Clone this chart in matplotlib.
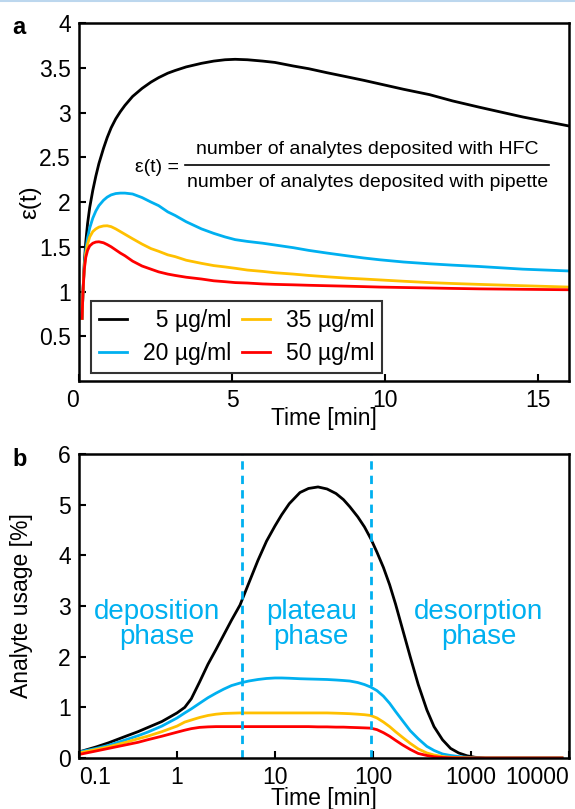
import matplotlib
matplotlib.use('Agg')
import matplotlib.pyplot as plt
from matplotlib.lines import Line2D

plt.rcParams['font.family'] = ['Liberation Sans', 'DejaVu Sans']
plt.rcParams['font.size'] = 16.5

# panel a: enhancement factor vs time
t_a = [0.1, 0.13, 0.17, 0.22, 0.28, 0.35, 0.45, 0.55, 0.65, 0.8, 0.92, 1.05, 1.2, 1.35,
       1.5, 1.75, 2.06, 2.35, 2.6, 2.9, 3.14, 3.5, 4.0, 4.4, 4.77, 5.1, 5.5, 6.0, 6.4,
       7.0, 7.5, 8.1, 8.74, 9.3, 9.82, 10.6, 11.45, 12.2, 13.07, 14.5, 16]
eps_5 = [0.70, 1.00, 1.30, 1.55, 1.76, 1.94, 2.13, 2.29, 2.43, 2.60, 2.72, 2.83, 2.93, 3.01,
         3.08, 3.18, 3.27, 3.34, 3.39, 3.44, 3.47, 3.51, 3.55, 3.575, 3.59, 3.595, 3.59,
         3.575, 3.56, 3.52, 3.49, 3.445, 3.40, 3.36, 3.32, 3.26, 3.20, 3.13, 3.06, 2.95, 2.85]
eps_20 = [0.70, 1.00, 1.27, 1.46, 1.60, 1.71, 1.82, 1.90, 1.96, 2.02, 2.055, 2.08, 2.095,
          2.10, 2.10, 2.09, 2.05, 2.00, 1.96, 1.89, 1.85, 1.78, 1.70, 1.65, 1.61, 1.58,
          1.56, 1.54, 1.52, 1.49, 1.46, 1.43, 1.40, 1.375, 1.355, 1.33, 1.31, 1.295, 1.28,
          1.25, 1.23]
eps_35 = [0.70, 1.00, 1.25, 1.42, 1.53, 1.61, 1.67, 1.70, 1.72, 1.733, 1.735, 1.725, 1.70,
          1.67, 1.64, 1.59, 1.53, 1.48, 1.45, 1.41, 1.39, 1.35, 1.315, 1.29, 1.275, 1.26,
          1.24, 1.225, 1.21, 1.195, 1.18, 1.165, 1.15, 1.14, 1.13, 1.115, 1.10, 1.09, 1.08,
          1.065, 1.05]
eps_50 = [0.70, 1.00, 1.24, 1.38, 1.46, 1.51, 1.54, 1.553, 1.556, 1.545, 1.525, 1.50, 1.465,
          1.43, 1.40, 1.34, 1.285, 1.25, 1.22, 1.195, 1.18, 1.16, 1.14, 1.12, 1.11, 1.10,
          1.095, 1.085, 1.08, 1.075, 1.07, 1.065, 1.06, 1.055, 1.05, 1.045, 1.04, 1.035,
          1.03, 1.025, 1.02]

# panel b: analyte usage vs time (log)
t_b = [0.1, 0.15, 0.2, 0.3, 0.4, 0.5, 0.7, 1.0, 1.2, 1.4, 1.7, 2.07, 2.5, 3.0, 3.6, 4.4,
       5.4, 6.7, 8.2, 10, 11.7, 14, 18, 22, 27.5, 34, 42, 50, 58, 70, 82, 95, 110, 128,
       148, 170, 200, 240, 290, 355, 420, 513, 620, 750, 910, 1100, 1400, 2000, 5000, 8500]
use_5 = [0.12, 0.22, 0.30, 0.43, 0.52, 0.60, 0.72, 0.89, 1.00, 1.17, 1.50, 1.85, 2.14, 2.43,
         2.72, 3.02, 3.45, 3.90, 4.28, 4.58, 4.80, 5.02, 5.24, 5.32, 5.35, 5.31, 5.22, 5.10,
         4.96, 4.76, 4.56, 4.33, 4.06, 3.76, 3.42, 3.04, 2.55, 2.00, 1.45, 0.95, 0.62, 0.36,
         0.19, 0.10, 0.045, 0.015, 0.0, 0.0, 0.0, 0.0]
use_20 = [0.12, 0.19, 0.25, 0.36, 0.44, 0.51, 0.63, 0.79, 0.89, 0.97, 1.08, 1.19, 1.28, 1.36,
          1.43, 1.48, 1.52, 1.55, 1.57, 1.58, 1.58, 1.575, 1.565, 1.56, 1.555, 1.55, 1.54,
          1.53, 1.52, 1.49, 1.45, 1.40, 1.33, 1.22, 1.08, 0.92, 0.74, 0.54, 0.38, 0.23, 0.15,
          0.08, 0.05, 0.03, 0.015, 0.005, 0.0, 0.0, 0.0, 0.0]
use_35 = [0.10, 0.17, 0.22, 0.31, 0.38, 0.43, 0.52, 0.63, 0.71, 0.75, 0.80, 0.84, 0.865, 0.88,
          0.885, 0.89, 0.89, 0.89, 0.89, 0.89, 0.89, 0.89, 0.89, 0.89, 0.89, 0.89, 0.885, 0.88,
          0.875, 0.865, 0.855, 0.84, 0.79, 0.71, 0.62, 0.52, 0.41, 0.29, 0.18, 0.10, 0.06,
          0.03, 0.015, 0.008, 0.004, 0.0, 0.0, 0.0, 0.0, 0.0]
use_50 = [0.07, 0.14, 0.19, 0.26, 0.31, 0.36, 0.43, 0.51, 0.55, 0.58, 0.605, 0.615, 0.62, 0.62,
          0.62, 0.62, 0.62, 0.62, 0.62, 0.62, 0.62, 0.62, 0.62, 0.62, 0.615, 0.615, 0.61, 0.61,
          0.605, 0.60, 0.595, 0.59, 0.56, 0.50, 0.43, 0.35, 0.26, 0.17, 0.09, 0.05, 0.025,
          0.012, 0.005, 0.002, 0.0, 0.0, 0.0, 0.0, 0.0, 0.0]

labels = ['\u20075 \u00b5g/ml', '20 \u00b5g/ml', '35 \u00b5g/ml', '50 \u00b5g/ml']
colors = ['black', '#00b0f0', '#ffc000', '#ff0000']
phase_t = [4.6, 95]
blue = '#00b0f0'

fig = plt.figure(figsize=(5.75, 8.09), dpi=100)
ax1 = fig.add_axes([0.1374, 0.529, 0.852, 0.4425])
ax2 = fig.add_axes([0.1374, 0.063, 0.852, 0.3758])

for ax in (ax1, ax2):
    for s in ax.spines.values():
        s.set_linewidth(1.8)
    ax.tick_params(direction='in', length=5, width=1.5, pad=6, labelsize=16.5)

# ---- a ----
lines = []
for y, c in zip([eps_5, eps_20, eps_35, eps_50], colors):
    lines.append(ax1.plot(t_a, y, color=c, lw=2)[0])
ax1.set_xlim(0, 16)
ax1.set_ylim(0, 4)
ax1.set_xticks([0, 5, 10, 15])
ax1.set_yticks([0.5, 1, 1.5, 2, 2.5, 3, 3.5, 4])
ax1.set_yticklabels(['0.5', '1', '1.5', '2', '2.5', '3', '3.5', '4'])
ax1.get_xticklabels()[0].set_ha('right')
ax1.set_xlabel('Time [min]')
ax1.xaxis.set_label_coords(0.5, -0.072)
ax1.set_ylabel('\u03b5(t)', fontsize=17.5)
ax1.yaxis.set_label_coords(-0.078, 0.5)
leg = ax1.legend(lines, labels,
                 ncol=2, loc='lower left', bbox_to_anchor=(0.0245, 0.022),
                 borderaxespad=0, fancybox=False, edgecolor='black',
                 handlelength=1.2, columnspacing=0.5, handletextpad=0.7,
                 fontsize=16.5, borderpad=0.35, labelspacing=0.45)
leg.get_frame().set_linewidth(1.5)

ax1.text(0.16, 0.597, '\u03b5(t) =', transform=ax1.transAxes, fontsize=14,
         ha='center', va='center')
ax1.text(0.588, 0.646, 'number of analytes deposited with HFC', transform=ax1.transAxes,
         fontsize=14, ha='center', va='center')
ax1.text(0.588, 0.556, 'number of analytes deposited with pipette', transform=ax1.transAxes,
         fontsize=14, ha='center', va='center')
ax1.add_line(Line2D([0.216, 0.959], [0.603, 0.603], transform=ax1.transAxes,
                    color='black', lw=1.2))

# ---- b ----
for y, c in zip([use_5, use_20, use_35, use_50], colors):
    ax2.plot(t_b, y, color=c, lw=2)
for tp in phase_t:
    ax2.axvline(tp, color=blue, lw=2, ls=(0, (3, 2.2)))
ax2.set_xscale('log')
ax2.set_xlim(0.1, 10000)
ax2.set_ylim(0, 6)
ax2.set_xticks([0.1, 1, 10, 100, 1000, 10000])
ax2.set_xticklabels(['0.1', '1', '10', '100', '1000', '10000'])
ax2.xaxis.set_minor_locator(matplotlib.ticker.NullLocator())
xl = ax2.get_xticklabels()
xl[0].set_ha('left')
xl[-1].set_ha('right')
ax2.set_yticks([0, 1, 2, 3, 4, 5, 6])
ax2.set_xlabel('Time [min]')
ax2.xaxis.set_label_coords(0.5, -0.095)
ax2.set_ylabel('Analyte usage [%]')
ax2.yaxis.set_label_coords(-0.094, 0.5)

ax2.text(0.16, 0.44, 'deposition\nphase', transform=ax2.transAxes, color=blue,
         fontsize=20, ha='center', va='center', linespacing=0.95)
ax2.text(0.474, 0.44, 'plateau\nphase', transform=ax2.transAxes, color=blue,
         fontsize=20, ha='center', va='center', linespacing=0.95)
ax2.text(0.816, 0.44, 'desorption\nphase', transform=ax2.transAxes, color=blue,
         fontsize=20, ha='center', va='center', linespacing=0.95)

fig.text(0.022, 0.966, 'a', fontsize=17, fontweight='bold', ha='left', va='center')
fig.text(0.022, 0.432, 'b', fontsize=17, fontweight='bold', ha='left', va='center')
fig.add_artist(Line2D([0, 1], [0.999, 0.999], transform=fig.transFigure,
                      color='#bcd7ee', lw=1.5))

fig.savefig('out.png', dpi=100)
